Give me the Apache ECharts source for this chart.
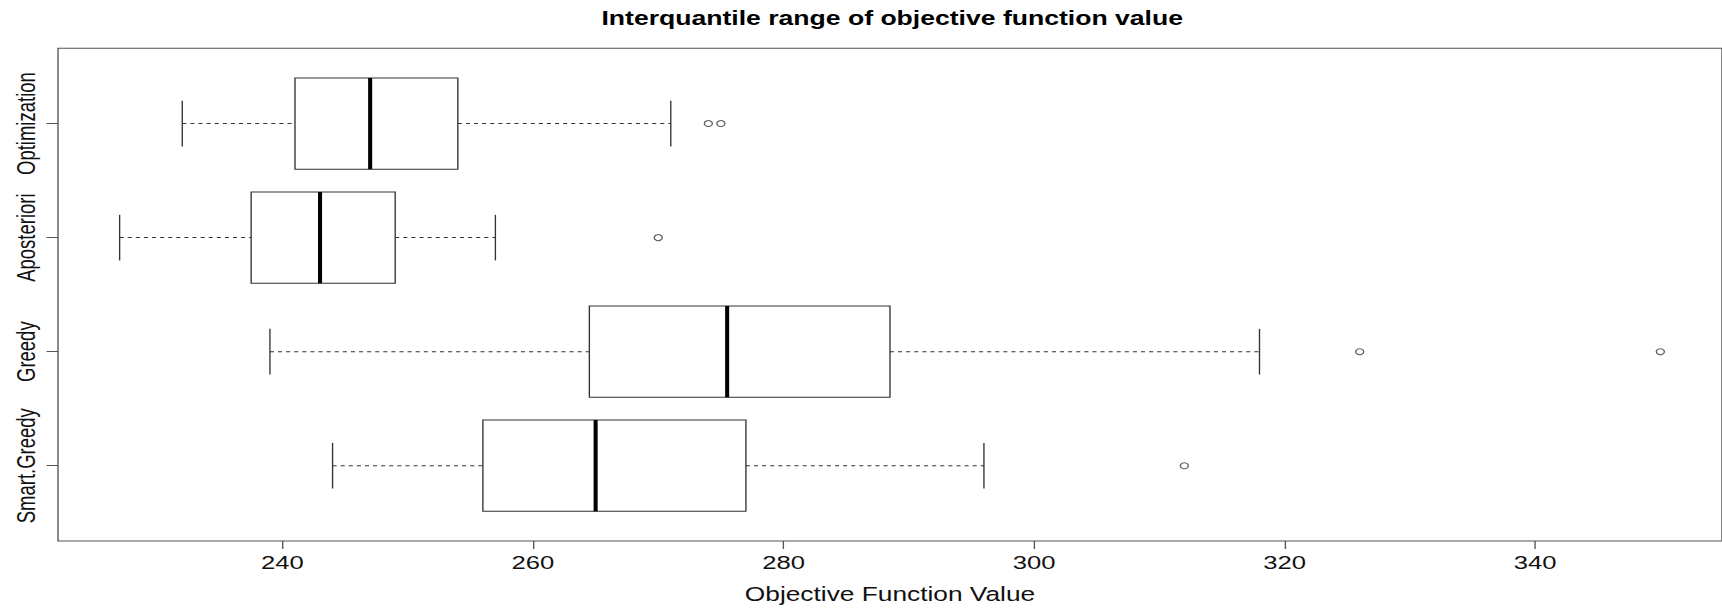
<!DOCTYPE html>
<html>
<head>
<meta charset="utf-8">
<script src="https://cdn.jsdelivr.net/npm/echarts@6/dist/echarts.min.js"></script>
<style>
html, body { margin: 0; padding: 0; background: #fff; overflow: hidden; }
#chart { width: 1276px; height: 609px; transform: scaleX(1.3495); transform-origin: 0 0; }
</style>
</head>
<body>
<div id="chart"></div>
<script>
// Data (positions 1..4 from bottom to top)
const categories = ['Smart.Greedy', 'Greedy', 'Aposteriori', 'Optimization'];
const lowWhisker  = [244, 239, 227, 232];
const q1Values    = [256, 264.5, 237.5, 241];
const medianVals  = [265, 275.5, 243, 247];
const q3Values    = [277, 288.5, 249, 254];
const highWhisker = [296, 318, 257, 271];
const outliers    = [[312], [326, 350], [270], [274, 275]];
const xTicks = [240, 260, 280, 300, 320, 340];
const title = 'Interquantile range of objective function value';
const xName = 'Objective Function Value';

const FONT = "'Liberation Sans', Arial, Helvetica, sans-serif";
const LINE = '#333';

const boxData = categories.map((c, i) => [i + 1, lowWhisker[i], q1Values[i], medianVals[i], q3Values[i], highWhisker[i]]);
const outlierData = [];
outliers.forEach((arr, i) => arr.forEach(v => outlierData.push([v, i + 1])));

const chart = echarts.init(document.getElementById('chart'), null, { renderer: 'svg' });

const gridLeft = 42.98, gridRight = -3.3, gridTop = 48.3, gridBottom = 63.7;
const plotCenter = (gridLeft + 1276 - gridRight) / 2;

chart.setOption({
  animation: false,
  backgroundColor: '#fff',
  grid: { left: gridLeft, right: gridRight, top: gridTop, bottom: gridBottom, show: true, borderColor: '#555', borderWidth: 1, backgroundColor: 'transparent' },
  graphic: [{
    type: 'text',
    x: plotCenter,
    y: 18,
    style: { text: title, x: 0, y: 0, textAlign: 'center', textVerticalAlign: 'middle', font: 'bold 19.7px ' + FONT, fill: '#000' },
    silent: true
  }],
  xAxis: {
    type: 'value', min: 222.08, max: 354.92,
    axisLine: { show: false },
    splitLine: { show: false },
    axisTick: { show: true, length: 8, customValues: xTicks, lineStyle: { color: '#555', width: 1 } },
    axisLabel: { customValues: xTicks, margin: 12, fontSize: 19, color: '#111', fontFamily: FONT },
    name: xName, nameLocation: 'middle', nameGap: 43,
    nameTextStyle: { fontSize: 19.5, color: '#111', fontFamily: FONT }
  },
  yAxis: {
    type: 'value', min: 0.34, max: 4.66,
    axisLine: { show: false },
    splitLine: { show: false },
    axisTick: { show: true, length: 8.5, customValues: [1, 2, 3, 4], lineStyle: { color: '#555', width: 1 } },
    axisLabel: { customValues: [1, 2, 3, 4], rotate: 90, margin: 14, fontSize: 18.5, color: '#111', fontFamily: FONT,
      formatter: v => categories[Math.round(v) - 1] || '' }
  },
  series: [{
    type: 'custom',
    data: boxData,
    encode: { x: [1, 2, 3, 4, 5], y: 0 },
    renderItem: function (params, api) {
      const pos = api.value(0), lo = api.value(1), q1 = api.value(2), med = api.value(3), q3 = api.value(4), hi = api.value(5);
      const c = (x, y) => api.coord([x, y]);
      const yc = c(q1, pos)[1];
      const yTop = c(q1, pos + 0.4)[1], yBot = c(q1, pos - 0.4)[1];
      const capTop = c(lo, pos + 0.2)[1], capBot = c(lo, pos - 0.2)[1];
      const xLo = c(lo, pos)[0], xQ1 = c(q1, pos)[0], xMed = c(med, pos)[0], xQ3 = c(q3, pos)[0], xHi = c(hi, pos)[0];
      const dashed = { stroke: LINE, lineWidth: 1, lineDash: [3, 3] };
      const solid = { stroke: LINE, lineWidth: 1 };
      return {
        type: 'group',
        children: [
          { type: 'line', shape: { x1: xLo, y1: yc, x2: xQ1, y2: yc }, style: dashed },
          { type: 'line', shape: { x1: xQ3, y1: yc, x2: xHi, y2: yc }, style: dashed },
          { type: 'line', shape: { x1: xLo, y1: capTop, x2: xLo, y2: capBot }, style: solid },
          { type: 'line', shape: { x1: xHi, y1: capTop, x2: xHi, y2: capBot }, style: solid },
          { type: 'rect', shape: { x: xQ1, y: yTop, width: xQ3 - xQ1, height: yBot - yTop }, style: { fill: '#fff', stroke: LINE, lineWidth: 1 } },
          { type: 'line', shape: { x1: xMed, y1: yTop, x2: xMed, y2: yBot }, style: { stroke: '#000', lineWidth: 3 } }
        ]
      };
    }
  }, {
    type: 'scatter',
    data: outlierData,
    symbol: 'circle',
    symbolSize: 6,
    itemStyle: { color: '#fff', borderColor: LINE, borderWidth: 1 }
  }]
});
</script>
</body>
</html>
